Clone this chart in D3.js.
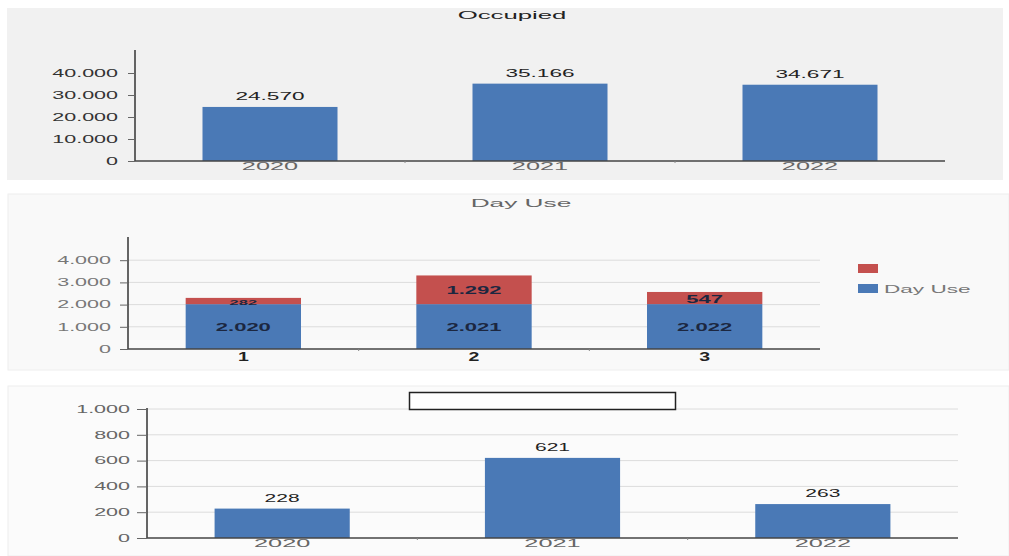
<!DOCTYPE html>
<html>
<head>
<meta charset="utf-8">
<script src="https://cdn.jsdelivr.net/npm/d3@7"></script>
<style>
  body { margin: 0; background: #fff; }
  svg { display: block; font-family: "Liberation Sans", Arial, sans-serif; }
</style>
</head>
<body>
<svg width="1009" height="556"></svg>
<script>
// Occupied
var occYears = ["2020", "2021", "2022"];
var occValues = [24570, 35166, 34671];
var occTicks = [0, 10000, 20000, 30000, 40000];

// Day Use (stacked)
var dayCats = ["1", "2", "3"];
var dayUseValues = [2020, 2021, 2022];
var dayExtraValues = [282, 1292, 547];
var dayTicks = [0, 1000, 2000, 3000, 4000];
var dayLegend = ["", "Day Use"];

// third chart, no title
var thirdYears = ["2020", "2021", "2022"];
var thirdValues = [228, 621, 263];
var thirdTicks = [0, 200, 400, 600, 800, 1000];

var blue = "#4a79b6", red = "#c4504e";

var loc = d3.formatLocale({decimal: ",", thousands: ".", grouping: [3], currency: ["", ""]});
var fmt = loc.format(",");

var svg = d3.select("svg");

// the source picture has its text stretched sideways
function stretch(sel, k) {
  sel.each(function () {
    var w = this.getComputedTextLength();
    if (w > 0) d3.select(this).attr("textLength", w * k).attr("lengthAdjust", "spacingAndGlyphs");
  });
}

// panel backgrounds
svg.append("rect").attr("x", 7).attr("y", 8).attr("width", 996).attr("height", 172).attr("fill", "#f1f1f1");
svg.append("rect").attr("x", 8).attr("y", 194).attr("width", 1001).attr("height", 176).attr("fill", "#f9f9f9").attr("stroke", "#eee");
svg.append("rect").attr("x", 8).attr("y", 386).attr("width", 1001).attr("height", 170).attr("fill", "#fbfbfb").attr("stroke", "#eee");

function drawAxes(g, x, y, ticks, grid, tickLen, color) {
  var x0 = x.range()[0], x1 = x.range()[1];
  if (grid) {
    g.selectAll(".grid").data(ticks.filter(d => d > 0)).enter().append("line")
      .attr("x1", x0).attr("x2", x1)
      .attr("y1", d => y(d)).attr("y2", d => y(d))
      .attr("stroke", "#dcdcdc").attr("stroke-width", 1);
  }
  var ya = g.append("g").attr("transform", "translate(" + x0 + ",0)")
    .call(d3.axisLeft(y).tickValues(ticks).tickFormat(fmt).tickSize(tickLen).tickPadding(12 - tickLen + 5));
  ya.select(".domain").attr("stroke", "#333").attr("stroke-width", 1.5).attr("d", "M0," + y.range()[0] + "V" + (y.range()[1] - 1));
  ya.selectAll(".tick line").attr("stroke", "#666");
  ya.selectAll("text").attr("fill", color).style("font-size", "10px").call(stretch, 2.15);
}

function xAxis(g, x, y, style) {
  var x0 = x.range()[0], x1 = x.range()[1];
  var xa = g.append("g").attr("transform", "translate(0," + y.range()[0] + ")")
    .call(d3.axisBottom(x).tickSize(0).tickPadding(style.pad));
  xa.select(".domain").attr("stroke", "#444").attr("stroke-width", 1.5).attr("d", "M" + x0 + ",0H" + x1);
  xa.selectAll("text").attr("fill", style.color).style("font-size", style.size)
    .style("font-weight", style.weight || "normal").call(stretch, style.k);
  // small separators between categories
  g.selectAll(".sep").data(x.domain().slice(1)).enter().append("line")
    .attr("x1", d => x(d) - x.step() * x.paddingInner() / 2).attr("x2", d => x(d) - x.step() * x.paddingInner() / 2)
    .attr("y1", y.range()[0]).attr("y2", y.range()[0] + 2).attr("stroke", "#888");
}

// ---- Occupied ----
(function () {
  var g = svg.append("g");
  var x = d3.scaleBand().domain(occYears).range([135, 945]).paddingInner(0.5).paddingOuter(0.25);
  var y = d3.scaleLinear().domain([0, 50000]).range([161, 51]);
  drawAxes(g, x, y, occTicks, false, 7, "#333");
  g.selectAll(".bar").data(occValues).enter().append("rect")
    .attr("x", (d, i) => x(occYears[i])).attr("y", d => y(d))
    .attr("width", x.bandwidth()).attr("height", d => y(0) - y(d)).attr("fill", blue);
  g.selectAll(".lbl").data(occValues).enter().append("text")
    .attr("x", (d, i) => x(occYears[i]) + x.bandwidth() / 2).attr("y", d => y(d) - 7)
    .attr("text-anchor", "middle").attr("fill", "#222").style("font-size", "10.5px").text(fmt)
    .call(stretch, 2.15);
  xAxis(g, x, y, {pad: 1, color: "#666", size: "11px", k: 2.3});
  g.append("text").attr("x", 512).attr("y", 19).attr("text-anchor", "middle")
    .attr("fill", "#222").style("font-size", "10.5px").text("Occupied").call(stretch, 2.45);
})();

// ---- Day Use ----
(function () {
  var g = svg.append("g");
  var x = d3.scaleBand().domain(dayCats).range([128, 820]).paddingInner(0.5).paddingOuter(0.25);
  var y = d3.scaleLinear().domain([0, 5000]).range([349, 238]);
  drawAxes(g, x, y, dayTicks, true, 8, "#777");
  var rows = dayCats.map((c, i) => ({cat: c, use: dayUseValues[i], extra: dayExtraValues[i]}));
  var stack = d3.stack().keys(["use", "extra"])(rows);
  var colors = [blue, red];
  stack.forEach(function (layer, li) {
    g.selectAll(".s" + li).data(layer).enter().append("rect")
      .attr("x", d => x(d.data.cat)).attr("y", d => y(d[1]))
      .attr("width", x.bandwidth()).attr("height", d => y(d[0]) - y(d[1]))
      .attr("fill", colors[li]);
    g.selectAll(".t" + li).data(layer).enter().append("text")
      .attr("x", d => x(d.data.cat) + x.bandwidth() / 2)
      .attr("y", d => (y(d[0]) + y(d[1])) / 2 + 1)
      .attr("dy", "0.36em").attr("text-anchor", "middle")
      .attr("fill", "#1c2740").style("font-weight", "bold")
      .style("font-size", d => (y(d[0]) - y(d[1]) < 10 ? "7.5px" : "10px"))
      .text(d => fmt(d[1] - d[0]))
      .call(stretch, 2.2);
  });
  xAxis(g, x, y, {pad: 3, color: "#222", size: "13px", weight: "bold", k: 1.5});
  g.append("text").attr("x", 521).attr("y", 207).attr("text-anchor", "middle")
    .attr("fill", "#666").style("font-size", "10.5px").text("Day Use").call(stretch, 2.5);
  var leg = g.selectAll(".leg").data(dayLegend).enter().append("g")
    .attr("transform", (d, i) => "translate(858," + (264 + i * 20) + ")");
  leg.append("rect").attr("width", 20).attr("height", 9).attr("fill", (d, i) => [red, blue][i]);
  leg.append("text").attr("x", 26).attr("y", 5).attr("dy", "0.35em")
    .attr("fill", "#777").style("font-size", "10.5px").text(d => d).call(stretch, 2.15);
})();

// ---- third chart ----
(function () {
  var g = svg.append("g");
  var x = d3.scaleBand().domain(thirdYears).range([147, 958]).paddingInner(0.5).paddingOuter(0.25);
  var y = d3.scaleLinear().domain([0, 1000]).range([538, 409]);
  drawAxes(g, x, y, thirdTicks, true, 10, "#666");
  g.selectAll(".bar").data(thirdValues).enter().append("rect")
    .attr("x", (d, i) => x(thirdYears[i])).attr("y", d => y(d))
    .attr("width", x.bandwidth()).attr("height", d => y(0) - y(d)).attr("fill", blue);
  g.selectAll(".lbl").data(thirdValues).enter().append("text")
    .attr("x", (d, i) => x(thirdYears[i]) + x.bandwidth() / 2).attr("y", d => y(d) - 7)
    .attr("text-anchor", "middle").attr("fill", "#222").style("font-size", "10.5px").text(fmt)
    .call(stretch, 2.0);
  xAxis(g, x, y, {pad: 1, color: "#666", size: "11px", k: 2.3});
  // empty title box
  g.append("rect").attr("x", 409.5).attr("y", 392.5).attr("width", 266).attr("height", 17)
    .attr("fill", "#fff").attr("stroke", "#222").attr("stroke-width", 1.5);
})();
</script>
</body>
</html>
